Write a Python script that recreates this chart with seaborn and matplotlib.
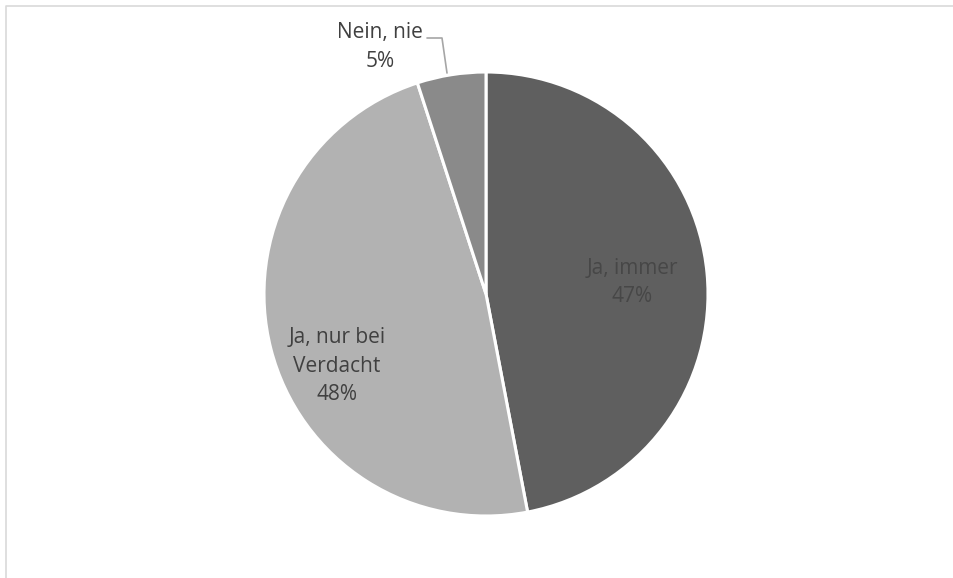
import matplotlib
matplotlib.use("Agg")
import matplotlib.pyplot as plt
import seaborn as sns
from matplotlib.lines import Line2D

categories = ["Ja, immer", "Ja, nur bei\nVerdacht", "Nein, nie"]
values = [47, 48, 5]
colors = ["#5f5f5f", "#b2b2b2", "#8a8a8a"]

sns.set_theme(style="white")
plt.rcParams["font.family"] = ["Open Sans", "DejaVu Sans"]

W, H = 954, 578
fig = plt.figure(figsize=(W / 100, H / 100), dpi=100)
fig.patch.set_facecolor("white")

cx, cy, R = 486, 294, 222
hw, hh = 300, 280
ax = fig.add_axes([(cx - hw) / W, (H - cy - hh) / H, 2 * hw / W, 2 * hh / H])
wedges, _ = ax.pie(values, colors=colors, startangle=90, counterclock=False,
                   wedgeprops=dict(edgecolor="white", linewidth=2.2))
ax.set_xlim(-hw / R, hw / R)
ax.set_ylim(-hh / R, hh / R)
ax.set_aspect("auto")
ax.axis("off")

pcts = [f"{v}%" for v in values]
label_pos = [(0.66, 0.05), (-0.672, -0.325), (-0.477, 1.113)]
text_colors = ["#474747", "#404040", "#404040"]
for cat, p, pos, tc in zip(categories, pcts, label_pos, text_colors):
    ax.text(pos[0], pos[1], f"{cat}\n{p}", ha="center", va="center",
            fontsize=15, color=tc, linespacing=1.45)

# leader line for "Nein, nie"
ax.plot([(427 - cx) / R, (442 - cx) / R, (447 - cx) / R],
        [(cy - 38) / R, (cy - 38) / R, (cy - 73) / R],
        color="#a6a6a6", lw=1.2, clip_on=False)

# chart-area border (only top and left edges visible)
fig.lines.append(Line2D([6 / W, 6 / W, 1.0], [0.0, 1 - 6 / H, 1 - 6 / H],
                        transform=fig.transFigure, color="#d9d9d9", lw=1.2))

fig.savefig("out.png", dpi=100, facecolor="white")
